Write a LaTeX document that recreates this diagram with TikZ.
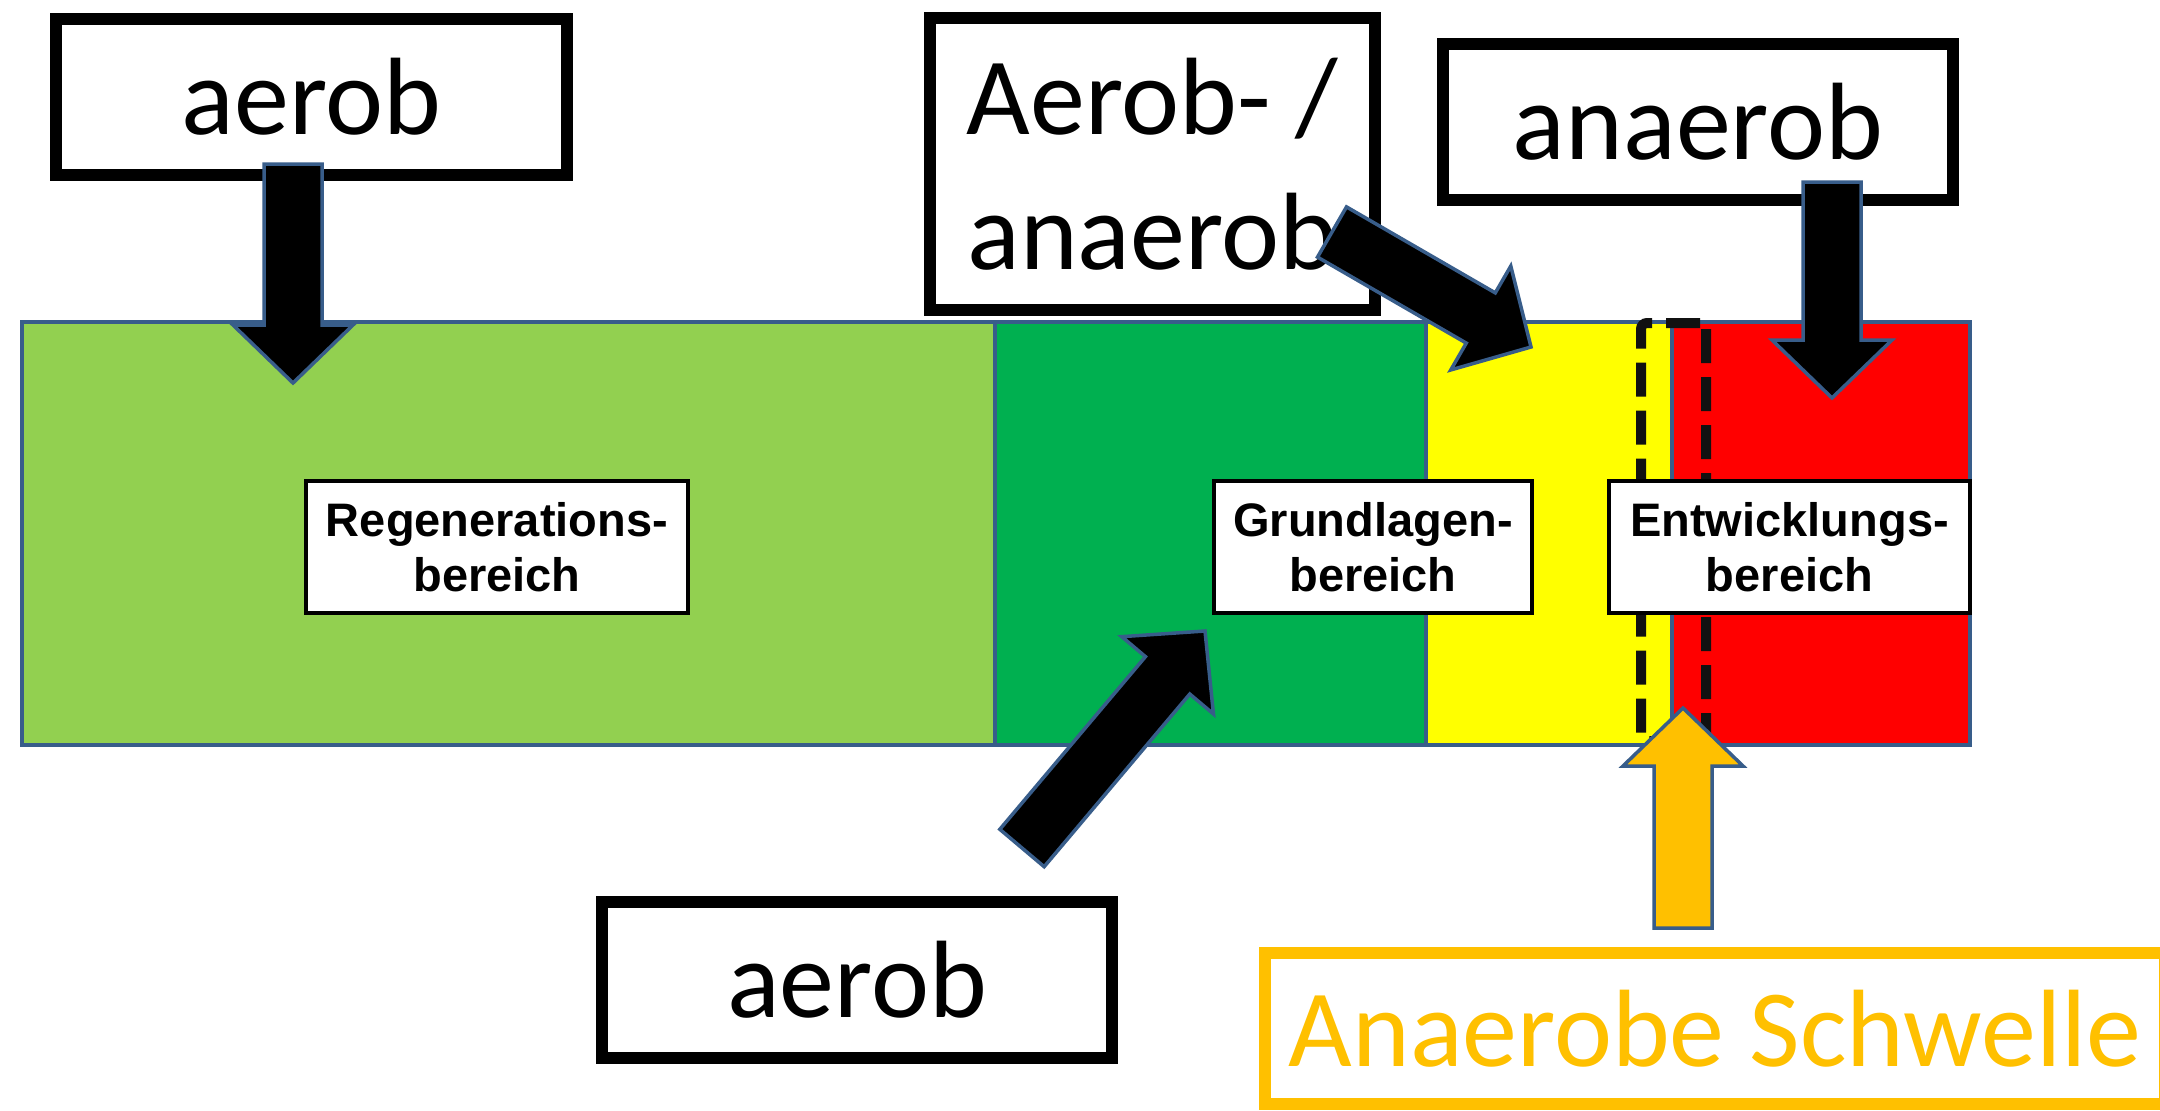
\documentclass[tikz,border=0pt]{standalone}
\usepackage{fontspec}
\usetikzlibrary{calc}
\newfontfamily\bigfont{Carlito}
\newfontfamily\labfont{Liberation Sans}
\definecolor{lgreen}{HTML}{92D050}
\definecolor{dgreen}{HTML}{00B050}
\definecolor{yel}{HTML}{FFFF00}
\definecolor{rd}{HTML}{FF0000}
\definecolor{edgecol}{HTML}{385D8A}
\definecolor{amber}{HTML}{FFC000}
\definecolor{dashcol}{HTML}{111111}
% block arrow from tail coordinate #2 to tip coordinate #3
\newcommand{\blockarrow}[3][]{%
  \coordinate (ba-m) at ($(#3)!29pt!(#2)$);
  \draw[blockarr,#1]
    ($(#2)!14.5pt!90:(#3)$) --
    ($(ba-m)!14.5pt!90:(#3)$) --
    ($(ba-m)!30pt!90:(#3)$) --
    (#3) --
    ($(ba-m)!30pt!-90:(#3)$) --
    ($(ba-m)!14.5pt!-90:(#3)$) --
    ($(#2)!14.5pt!-90:(#3)$) -- cycle;
}
\begin{document}
\begin{tikzpicture}[x=0.5pt,y=-0.5pt,
  seg/.style={draw=edgecol, line width=2pt, inner sep=0pt, outer sep=0pt,
    minimum height=211.5pt, anchor=north west},
  lab/.style={draw=black, line width=2pt, fill=white, inner sep=0pt,
    minimum height=66pt, align=center,
    font=\labfont\bfseries\fontsize{23.5}{27.5}\selectfont},
  bigbox/.style={draw=black, line width=6pt, fill=white, inner sep=0pt,
    minimum width=255.5pt, minimum height=78pt, align=center,
    font=\bigfont\fontsize{55}{67.5}\selectfont},
  blockarr/.style={draw=edgecol, line width=1.75pt, fill=black, line join=miter},
  threshold/.style={draw=dashcol, line width=5pt, dash pattern=on 17pt off 7pt,
    rounded corners=3pt, inner sep=0pt, minimum width=32.5pt, minimum height=209pt},
]
\useasboundingbox (0,0) rectangle (2160,1110);
\clip (0,0) rectangle (2160,1110);
\fill[white] (0,0) rectangle (2160,1110);

% zones
\node[seg, fill=lgreen, minimum width=486.5pt] (s1) at (22,322) {};
\node[seg, fill=dgreen, minimum width=215.5pt] (s2) at (995,322) {};
\node[seg, fill=yel, minimum width=123pt] (s3) at (1426,322) {};
\node[seg, fill=rd, minimum width=149pt] (s4) at (1672,322) {};

% threshold band
\node[threshold] (thr) at (1673.5,532) {};

% zone labels
\node[lab, minimum width=191pt] (reg) at (497,547) {Regenerations-\\bereich};
\node[lab, minimum width=159pt] (grund) at (1373,547) {Grundlagen-\\bereich};
\node[lab, minimum width=180.5pt] (entw) at (1789.5,547) {Entwicklungs-\\bereich};

% big boxes
\node[bigbox] (b1) at (311.5,97) {aerob};
\node[bigbox, minimum width=222.5pt, minimum height=146pt] (b2) at (1152.5,164) {Aerob- /\\anaerob};
\node[bigbox, minimum width=255pt] (b3) at (1698,122) {anaerob};
\node[bigbox, minimum width=255pt] (b4) at (857,980) {aerob};
\node[bigbox, draw=amber, text=amber, minimum width=450pt, minimum height=75.5pt] (b5) at (1715,1028.5) {Anaerobe Schwelle};

% arrow end points
\coordinate (a1t) at (293,164);  \coordinate (a1h) at (293,383);
\coordinate (a2t) at (1332,232); \coordinate (a2h) at (1531,347);
\coordinate (a3t) at (1832,182); \coordinate (a3h) at (1832,398);
\coordinate (a4t) at (1022,848); \coordinate (a4h) at (1205,631);
\coordinate (a5t) at (1683,928); \coordinate (a5h) at (1683,708);

\blockarrow{a1t}{a1h}
\blockarrow{a2t}{a2h}
\blockarrow{a3t}{a3h}
\blockarrow{a4t}{a4h}
\blockarrow[fill=amber]{a5t}{a5h}
\end{tikzpicture}
\end{document}
